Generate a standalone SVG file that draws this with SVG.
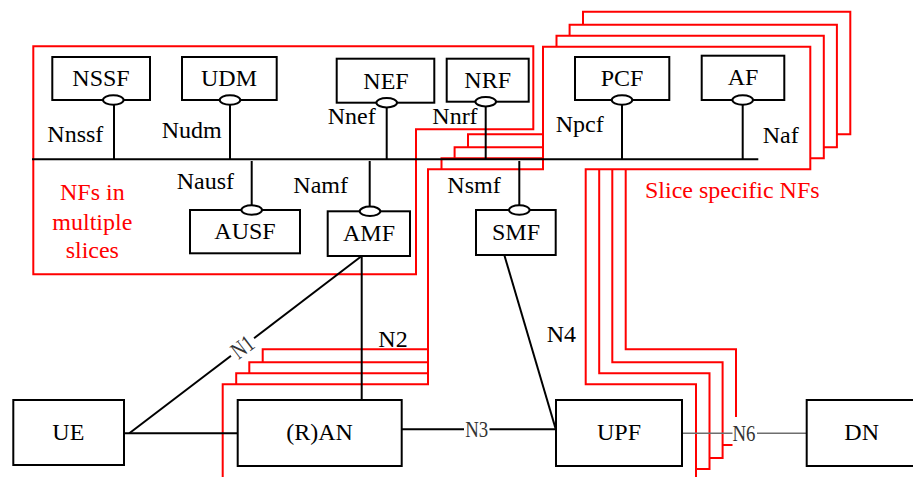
<svg xmlns="http://www.w3.org/2000/svg" xmlns:xlink="http://www.w3.org/1999/xlink" width="913" height="477" viewBox="0 0 913 477">
<style>
.box{fill:#fff;stroke:#000;stroke-width:2}
.ifc{fill:#fff;stroke:#000;stroke-width:2}
.ln{stroke:#000;stroke-width:2;fill:none}
.gray{stroke:#6e6e6e;stroke-width:1.6;fill:none}
.frame{fill:#fff;stroke:#ff0000;stroke-width:2}
.mframe{fill:none;stroke:#ff0000;stroke-width:2}
.t{font-family:"Liberation Serif","Times New Roman",serif;font-size:24px;fill:#000}
.c{text-anchor:middle}
.red{fill:#ff0000}
.thin{font-family:"Liberation Serif","Times New Roman",serif;font-size:24px;fill:#333;text-anchor:middle}
.bg{fill:#fff;stroke:none}
</style>
<defs>
<polygon id="slice" points="543,46.7 810.3,46.7 810.3,169.3 585.7,169.3 585.7,384.3 696,384.3 696,480 222.7,480 222.7,384.3 428,384.3 428,169.3 543,169.3"/>
</defs>
<rect x="0" y="0" width="913" height="477" fill="#fff"/>

<g id="frames">
<polygon class="mframe" points="33.3,46.3 533.3,46.3 533.3,129.3 416,129.3 416,274.3 33.3,274.3"/>
<use xlink:href="#slice" class="frame" transform="translate(40,-35)"/>
<use xlink:href="#slice" class="frame" transform="translate(26.6,-22)"/>
<use xlink:href="#slice" class="frame" transform="translate(13.5,-11)"/>
<use xlink:href="#slice" class="frame"/>
<text class="t red c" x="92.3" y="200">NFs in</text>
<text class="t red c" x="92.3" y="230">multiple</text>
<text class="t red c" x="92.3" y="258.3">slices</text>
<text class="t red" x="645" y="198.3">Slice specific NFs</text>
</g>

<g id="connectors">
<line class="ln" x1="32" y1="159.3" x2="758.3" y2="159.3"/>
<line class="ln" x1="114" y1="104" x2="114" y2="159.3"/>
<line class="ln" x1="230" y1="104" x2="230" y2="159.3"/>
<line class="ln" x1="386.7" y1="107" x2="386.7" y2="159.3"/>
<line class="ln" x1="485.7" y1="106" x2="485.7" y2="159.3"/>
<line class="ln" x1="622" y1="104" x2="622" y2="159.3"/>
<line class="ln" x1="742.7" y1="104" x2="742.7" y2="159.3"/>
<line class="ln" x1="251.7" y1="161" x2="251.7" y2="206"/>
<line class="ln" x1="369.7" y1="161" x2="369.7" y2="207"/>
<line class="ln" x1="519.3" y1="161" x2="519.3" y2="206"/>
<line class="ln" x1="124" y1="433.3" x2="237.7" y2="433.3"/>
<line class="ln" x1="129.3" y1="433.3" x2="361.7" y2="256"/>
<line class="ln" x1="361.7" y1="256" x2="361.7" y2="400"/>
<line class="ln" x1="504.3" y1="255" x2="556" y2="430"/>
<line class="ln" x1="401.7" y1="429.3" x2="556" y2="429.3"/>
<line class="gray" x1="682" y1="433.3" x2="806.7" y2="433.3"/>
<g transform="rotate(-37.3 242.5 347)">
<rect class="bg" x="228" y="338" width="29" height="18"/>
<text class="thin" x="242.5" y="355" textLength="22" lengthAdjust="spacingAndGlyphs">N1</text>
</g>
<rect class="bg" x="464" y="418" width="25.5" height="22"/>
<text class="thin" x="476.7" y="436.7" textLength="23" lengthAdjust="spacingAndGlyphs">N3</text>
<rect class="bg" x="732.5" y="417" width="24.5" height="30"/>
<text class="thin" x="744" y="441" textLength="23" lengthAdjust="spacingAndGlyphs">N6</text>
<text class="t" x="47.3" y="141.7">Nnssf</text>
<text class="t" x="161.7" y="138.3">Nudm</text>
<text class="t" x="327.7" y="124">Nnef</text>
<text class="t" x="432.3" y="124">Nnrf</text>
<text class="t" x="555.7" y="131.7">Npcf</text>
<text class="t" x="762.7" y="142.7">Naf</text>
<text class="t" x="176.7" y="189.3">Nausf</text>
<text class="t" x="293.3" y="193.3">Namf</text>
<text class="t" x="447.3" y="192.7">Nsmf</text>
<text class="t" x="378.3" y="346.7">N2</text>
<text class="t" x="546.7" y="342.3">N4</text>
</g>

<g id="NSSF">
<rect class="box" x="52.3" y="57" width="97.7" height="43"/>
<text class="t c" x="101" y="86">NSSF</text>
<ellipse class="ifc" cx="113.3" cy="100" rx="10.3" ry="4.7"/>
</g>
<g id="UDM">
<rect class="box" x="182" y="57" width="94.7" height="43"/>
<text class="t c" x="229" y="86">UDM</text>
<ellipse class="ifc" cx="230" cy="100" rx="10.3" ry="4.7"/>
</g>
<g id="NEF">
<rect class="box" x="336.7" y="58.7" width="97.6" height="44"/>
<text class="t c" x="386" y="89">NEF</text>
<ellipse class="ifc" cx="386.7" cy="102.7" rx="10.3" ry="4.7"/>
</g>
<g id="NRF">
<rect class="box" x="446.7" y="58.7" width="82" height="43"/>
<text class="t c" x="487.7" y="87.5">NRF</text>
<ellipse class="ifc" cx="485.7" cy="101.7" rx="10.3" ry="4.7"/>
</g>
<g id="PCF">
<rect class="box" x="575" y="57" width="94.3" height="43"/>
<text class="t c" x="622" y="86">PCF</text>
<ellipse class="ifc" cx="622" cy="100" rx="10.3" ry="4.7"/>
</g>
<g id="AF">
<rect class="box" x="701.7" y="55.7" width="82.6" height="44.3"/>
<text class="t c" x="743" y="85">AF</text>
<ellipse class="ifc" cx="742.7" cy="100" rx="10.3" ry="4.7"/>
</g>
<g id="AUSF">
<rect class="box" x="190" y="210" width="110" height="43.3"/>
<text class="t c" x="245" y="239.3">AUSF</text>
<ellipse class="ifc" cx="251.7" cy="210" rx="10.3" ry="4.7"/>
</g>
<g id="AMF">
<rect class="box" x="327.7" y="211.3" width="82.3" height="44.7"/>
<text class="t c" x="369" y="241">AMF</text>
<ellipse class="ifc" cx="370" cy="211.3" rx="10.3" ry="4.7"/>
</g>
<g id="SMF">
<rect class="box" x="476" y="210" width="79.7" height="45"/>
<text class="t c" x="516" y="240">SMF</text>
<ellipse class="ifc" cx="519.3" cy="210" rx="10.3" ry="4.7"/>
</g>
<g id="UE">
<rect class="box" x="13.3" y="400" width="110.7" height="65"/>
<text class="t c" x="68.3" y="440">UE</text>
</g>
<g id="RAN">
<rect class="box" x="237.7" y="400" width="164" height="66"/>
<text class="t c" x="319.5" y="440">(R)AN</text>
</g>
<g id="UPF">
<rect class="box" x="556" y="400" width="126" height="66"/>
<text class="t c" x="619" y="440">UPF</text>
</g>
<g id="DN">
<rect class="box" x="806.7" y="400" width="120" height="66"/>
<text class="t c" x="861.7" y="440">DN</text>
</g>
</svg>
